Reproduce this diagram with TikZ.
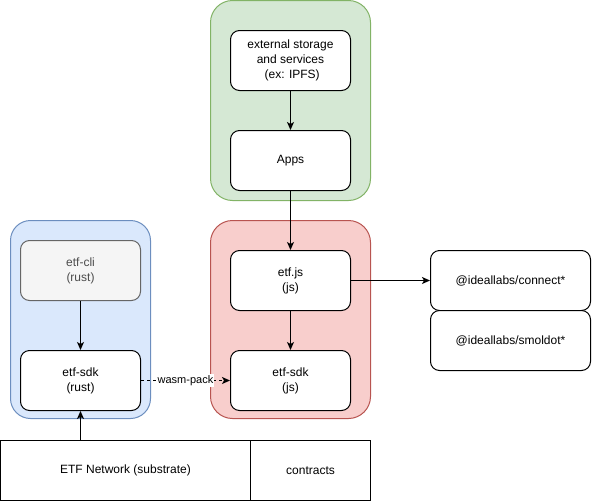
\documentclass[tikz,border=0pt]{standalone}
\usepackage{fontspec}
\setmainfont{Liberation Sans}
\usetikzlibrary{arrows.meta}
\definecolor{gfill}{HTML}{D5E8D4}\definecolor{gline}{HTML}{82B366}
\definecolor{rfill}{HTML}{F8CECC}\definecolor{rline}{HTML}{B85450}
\definecolor{bfill}{HTML}{DAE8FC}\definecolor{bline}{HTML}{6C8EBF}
\definecolor{cfill}{HTML}{F5F5F5}\definecolor{cline}{HTML}{666666}
\tikzset{
  container/.style={rounded corners=22pt,line width=1pt},
  box/.style={draw=black,fill=white,rounded corners=9pt,line width=1pt,minimum width=120pt,minimum height=60pt,inner sep=0pt,align=center,font=\fontsize{12}{15}\selectfont},
  plain/.style={draw=black,fill=white,line width=1pt,inner sep=0pt,align=center,font=\fontsize{12}{15}\selectfont},
  arr/.style={line width=1pt,-{Stealth[length=8pt,width=7pt,inset=2pt]}},
}
\begin{document}
\begin{tikzpicture}[x=1pt,y=-1pt]
\useasboundingbox (0,0) rectangle (592,501);
% containers
\draw[container,fill=gfill,draw=gline] (210.5,0.5) rectangle (370.5,200.5);
\draw[container,fill=rfill,draw=rline] (210.5,220.5) rectangle (370.5,418.5);
\draw[container,fill=bfill,draw=bline,rounded corners=20pt] (10.5,220.5) rectangle (150.5,418.5);
% boxes
\node[box] (ext) at (290.5,60.5) {external storage\\and services\\\ (ex: IPFS)};
\node[box] (apps) at (290.5,160.5) {Apps};
\node[box] (etfjs) at (290.5,280.5) {etf.js\\(js)};
\node[box] (sdkjs) at (290.5,380.5) {etf-sdk\\(js)};
\node[box,fill=cfill,draw=cline,text=black!70] (cli) at (80.5,270.5) {etf-cli\\(rust)};
\node[box] (sdkrs) at (80.5,380.5) {etf-sdk\\(rust)};
\node[box,minimum width=160pt] (conn) at (510.5,280.5) {@ideallabs/connect*};
\node[box,minimum width=160pt] (smol) at (510.5,340.5) {@ideallabs/smoldot*};
\node[plain,minimum width=250pt,minimum height=60pt] (net) at (125.5,470.5) {ETF Network (substrate)};
\node[plain,minimum width=120pt,minimum height=60pt] (contr) at (310.5,470.5) {contracts};
% connectors
\draw[arr] (ext) -- (apps);
\draw[arr] (apps) -- (etfjs);
\draw[arr] (etfjs) -- (sdkjs);
\draw[arr] (etfjs) -- (conn);
\draw[arr] (cli) -- (sdkrs);
\draw[arr] (net.north -| sdkrs) -- (sdkrs);
\draw[arr,dashed,dash pattern=on 3pt off 3pt] (sdkrs) -- node[fill=white,inner sep=1pt,font=\fontsize{11}{13}\selectfont] (wlab) {wasm-pack} (sdkjs);
\end{tikzpicture}
\end{document}
